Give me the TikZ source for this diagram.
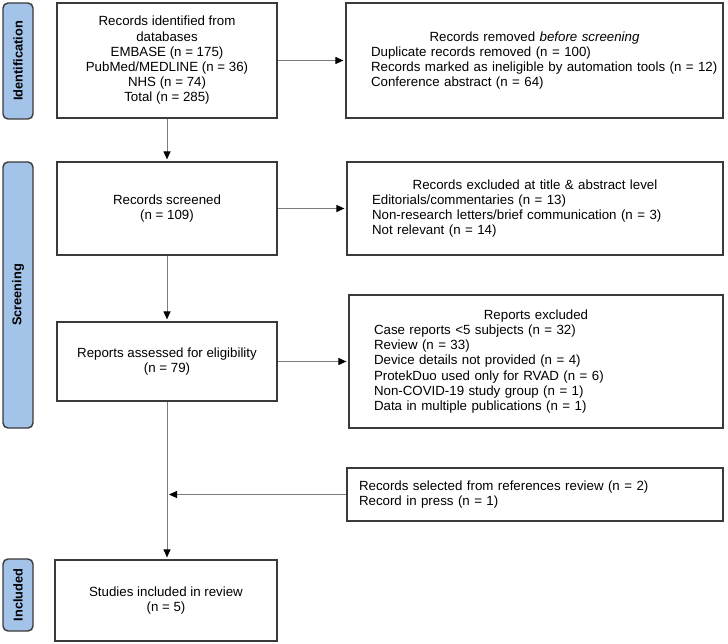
\documentclass[tikz,border=0pt]{standalone}
\usepackage{fontspec}
\setmainfont{Liberation Sans}
\usetikzlibrary{arrows.meta}
\definecolor{phaseblue}{HTML}{A3C3E9}
\definecolor{edge}{HTML}{3A3A3A}
\definecolor{wire}{HTML}{7C7C7C}
\begin{document}
\begin{tikzpicture}[x=1pt, y=-1pt,
    box/.style={draw=edge, line width=1.2pt, inner sep=0pt, minimum width=220pt, align=center,
      font=\fontsize{13.3}{15.2}\selectfont},
    list/.style={box, text width=#1, inner xsep=25pt, align=left},
    phase/.style={draw=edge, fill=phaseblue, line width=1.4pt, rounded corners=5pt, rotate=90,
      minimum height=30pt, inner sep=0pt, font=\fontsize{12.8}{14}\selectfont\bfseries},
    flow/.style={draw=wire, line width=1pt, shorten >=2pt,
      -{Triangle[length=8pt, width=7pt, color=black]}}]
  \useasboundingbox (0,0) rectangle (728,644);
  % phases
  \node[phase, minimum width=116pt] (ident) at (18,61) {Identification};
  \node[phase, minimum width=266pt] (screen) at (18,295) {Screening};
  \node[phase, minimum width=72pt] (incl) at (18,595) {Included};
  % boxes
  \node[box, minimum height=115pt] (found) at (167,60.5)
    {Records identified from\\ databases\\ EMBASE (n = 175)\\ PubMed/MEDLINE (n = 36)\\ NHS (n = 74)\\ Total (n = 285)};
  \node[list=327pt, minimum height=115pt] (removed) at (534.5,60.5)
    {\makebox[\linewidth]{Records removed \textit{before screening}}\\
     Duplicate records removed (n = 100)\\
     \mbox{Records marked as ineligible by automation tools (n = 12)}\\
     Conference abstract (n = 64)};
  \node[box, minimum height=93pt] (screened) at (167,208.5) {Records screened\\ (n = 109)};
  \node[list=326pt, minimum height=93pt] (excl) at (535,208.5)
    {\makebox[\linewidth]{Records excluded at title \& abstract level}\\
     Editorials/commentaries (n = 13)\\
     Non-research letters/brief communication (n = 3)\\
     Not relevant (n = 14)};
  \node[box, minimum height=79pt] (assessed) at (167,361.5) {Reports assessed for eligibility\\ (n = 79)};
  \node[list=324pt, minimum height=133pt] (rexcl) at (536,361.5)
    {\makebox[\linewidth]{Reports excluded}\\
     Case reports <5 subjects (n = 32)\\
     Review (n = 33)\\
     Device details not provided (n = 4)\\
     ProtekDuo used only for RVAD (n = 6)\\
     Non-COVID-19 study group (n = 1)\\
     Data in multiple publications (n = 1)};
  \node[list=352pt, inner xsep=12pt, minimum height=53pt] (extra) at (535,494.5)
    {Records selected from references review (n = 2)\\ Record in press (n = 1)};
  \node[box, minimum width=222pt, minimum height=81pt] (studies) at (166,600.5)
    {Studies included in review\\ (n = 5)};
  % connectors
  \coordinate (merge) at (assessed.south |- extra.west);
  \draw[flow] (found.east) -- (removed.west);
  \draw[flow] (found.south) -- (screened.north);
  \draw[flow] (screened.east) -- (excl.west);
  \draw[flow] (screened.south) -- (assessed.north);
  \draw[flow] (assessed.east) -- (rexcl.west);
  \draw[flow] (assessed.south) -- (assessed.south |- studies.north);
  \draw[flow] (extra.west) -- (merge);
\end{tikzpicture}
\end{document}
